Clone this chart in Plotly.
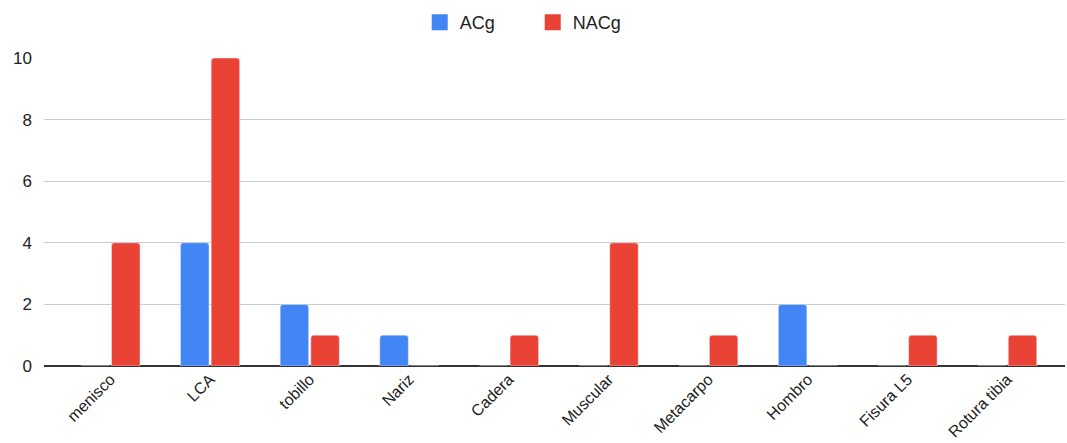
import plotly.graph_objects as go

categories = ["menisco", "LCA", "tobillo", "Nariz", "Cadera", "Muscular",
              "Metacarpo", "Hombro", "Fisura L5", "Rotura tibia"]
acg = [0, 4, 2, 1, 0, 0, 0, 2, 0, 0]
nacg = [4, 10, 1, 0, 1, 4, 1, 0, 1, 1]
y_ticks = [0, 2, 4, 6, 8, 10]

BLUE = "#4285F4"
RED = "#EA4335"
FONT = "Liberation Sans, Arial, sans-serif"

fig = go.Figure()
fig.add_trace(go.Bar(x=categories, y=acg, name="ACg", marker_color=BLUE,
                     showlegend=False))
fig.add_trace(go.Bar(x=categories, y=nacg, name="NACg", marker_color=RED,
                     showlegend=False))
# legend proxies (larger square symbols)
fig.add_trace(go.Scatter(x=[None], y=[None], mode="markers", name="ACg",
                         marker=dict(symbol="square", size=18, color=BLUE)))
fig.add_trace(go.Scatter(x=[None], y=[None], mode="markers", name="NACg",
                         marker=dict(symbol="square", size=18, color=RED)))

fig.update_layout(
    width=1067, height=443,
    margin=dict(l=44, r=2, t=58, b=77, autoexpand=False),
    paper_bgcolor="white", plot_bgcolor="white",
    font=dict(family=FONT, size=17, color="#222222"),
    barmode="group", bargap=0.385, bargroupgap=0.07,
    barcornerradius=3,
    legend=dict(orientation="h", x=0.368, xanchor="left", y=1.055,
                yanchor="bottom", entrywidth=68, entrywidthmode="pixels",
                font=dict(size=18, color="#222222"), itemsizing="trace"),
    xaxis=dict(type="category", range=[-0.667, 9.58], tickangle=-45,
               showgrid=False, showline=False, ticks="", automargin=False,
               tickfont=dict(size=16, color="#222222")),
    yaxis=dict(range=[0, 10], tickvals=y_ticks, showgrid=True,
               gridcolor="#cccccc", gridwidth=1, zeroline=True,
               zerolinecolor="#333333", zerolinewidth=1.5, automargin=False,
               ticks="", ticklabelstandoff=11,
               tickfont=dict(size=17, color="#222222")),
)

fig.write_html("out.html")
